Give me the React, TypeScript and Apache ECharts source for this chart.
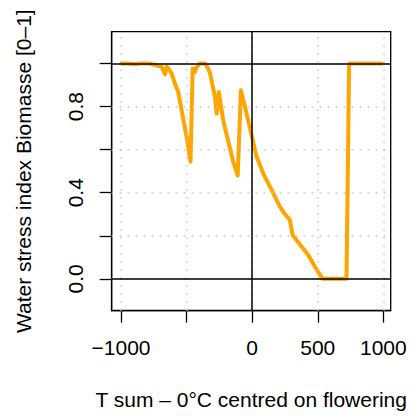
import React, { useEffect, useRef } from "react";
import * as echarts from "echarts";

const tSum = [
  -995, -940, -900, -860, -780, -720, -690, -665, -652, -635, -614, -589, -564, -538, -500, -470,
  -454, -437, -424, -399, -360, -335, -321, -284, -271, -254, -239, -221, -183, -145, -110,
  -86, -43, 8, 34, 84, 148, 211, 250, 287, 308, 376, 427, 478, 537, 719, 739, 986,
];
const stress = [
  1.0, 1.0, 0.997, 1.0, 1.0, 0.99, 0.985, 0.95, 0.985, 0.975, 0.954, 0.907, 0.868, 0.783, 0.66, 0.544,
  0.977, 0.96, 0.984, 1.0, 1.0, 0.977, 0.954, 0.845, 0.768, 0.868, 0.807, 0.737, 0.64, 0.545, 0.48,
  0.876, 0.768, 0.635, 0.567, 0.49, 0.413, 0.335, 0.3, 0.274, 0.204, 0.15, 0.111, 0.057, 0.0, 0.0, 1.0, 1.0,
];

const xTicks = [-1000, -500, 0, 500, 1000];
const xLabels = [-1000, 0, 500, 1000];
const yTicks = [0, 0.2, 0.4, 0.6, 0.8, 1.0];
const yLabels = [0, 0.4, 0.8];
const hLines = [0, 1];
const vLines = [0];

const FONT = "'Liberation Sans', Arial, Helvetica, sans-serif";

export default function App() {
  const ref = useRef<HTMLDivElement>(null);
  useEffect(() => {
    if (!ref.current) return;
    const chart = echarts.init(ref.current, null, { renderer: "svg" });
    const data = tSum.map((x, i) => [x, stress[i]]);
    chart.setOption({
      animation: false,
      backgroundColor: "#ffffff",
      grid: {
        left: 111.7,
        top: 31.7,
        right: 21.3,
        bottom: 105.3,
        show: true,
        borderColor: "#000",
        borderWidth: 1.3,
        backgroundColor: "transparent",
      },
      xAxis: {
        type: "value",
        min: -1071,
        max: 1056,
        name: "T sum \u2013 0\u00b0C centred on flowering",
        nameLocation: "middle",
        nameGap: 78,
        nameTextStyle: { fontFamily: FONT, fontSize: 21, color: "#000" },
        axisLine: { show: true, onZero: false, lineStyle: { color: "#000", width: 1.3 } },
        axisTick: {
          show: true,
          length: 12,
          customValues: xTicks,
          lineStyle: { color: "#000", width: 1.3 },
        },
        axisLabel: {
          customValues: xLabels,
          fontFamily: FONT,
          fontSize: 21,
          color: "#000",
          margin: 26,
          formatter: (v: number) => (v < 0 ? "\u2212" + Math.abs(v) : String(v)),
        },
        splitLine: { show: false },
      },
      yAxis: {
        type: "value",
        min: -0.148,
        max: 1.148,
        name: "Water stress index Biomasse [0\u20131]",
        nameLocation: "middle",
        nameRotate: 90,
        nameGap: 78,
        nameTextStyle: { fontFamily: FONT, fontSize: 21, color: "#000" },
        axisLine: { show: true, onZero: false, lineStyle: { color: "#000", width: 1.3 } },
        axisTick: {
          show: true,
          length: 12,
          customValues: yTicks,
          lineStyle: { color: "#000", width: 1.3 },
        },
        axisLabel: {
          customValues: yLabels,
          rotate: 90,
          fontFamily: FONT,
          fontSize: 21,
          color: "#000",
          margin: 26,
          formatter: (v: number) => v.toFixed(1),
        },
        splitLine: { show: false },
      },
      series: [
        {
          type: "line",
          data: [],
          silent: true,
          z: 1,
          markLine: {
            silent: true,
            symbol: "none",
            label: { show: false },
            lineStyle: { color: "#c4c4c4", width: 1.5, type: [1.5, 6.5] },
            data: [
              ...xTicks.map((x) => ({ xAxis: x })),
              ...yTicks.map((y) => ({ yAxis: y })),
            ],
          },
        },
        {
          type: "line",
          data,
          showSymbol: false,
          z: 3,
          lineStyle: { color: "#FFA500", width: 4, join: "round", cap: "round" },
          itemStyle: { color: "#FFA500" },
        },
        {
          type: "line",
          data: [],
          silent: true,
          z: 4,
          markLine: {
            silent: true,
            symbol: "none",
            label: { show: false },
            lineStyle: { color: "#000", width: 1.5, type: "solid" },
            data: [
              ...hLines.map((y) => ({ yAxis: y })),
              ...vLines.map((x) => ({ xAxis: x })),
            ],
          },
        },
      ],
    });
    return () => chart.dispose();
  }, []);
  return (
    <div
      ref={ref}
      style={{ position: "fixed", left: 0, top: 0, width: 412, height: 416, background: "#fff" }}
    />
  );
}
